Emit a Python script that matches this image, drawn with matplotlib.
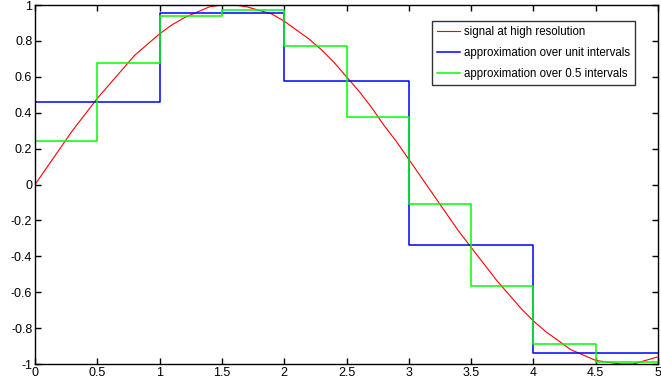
import numpy as np
import matplotlib
matplotlib.use("Agg")
import matplotlib.pyplot as plt

# signal, every 0.1
x_sig = np.arange(0, 5.01, 0.1)
y_sig = [0.00, 0.10, 0.20, 0.30, 0.39, 0.48, 0.56, 0.64, 0.72, 0.78,
         0.84, 0.89, 0.93, 0.96, 0.99, 1.00, 1.00, 0.99, 0.97, 0.95,
         0.91, 0.86, 0.81, 0.75, 0.68, 0.60, 0.52, 0.43, 0.33, 0.24,
         0.14, 0.04, -0.06, -0.16, -0.26, -0.35, -0.44, -0.53, -0.61, -0.69,
         -0.76, -0.82, -0.87, -0.92, -0.95, -0.98, -0.99, -1.00, -1.00, -0.98,
         -0.96]

# approximation over unit intervals
unit_edges = [0, 1, 2, 3, 4, 5]
unit_vals = [0.46, 0.956, 0.574, -0.336, -0.937]

# approximation over 0.5 intervals
half_edges = [0, 0.5, 1, 1.5, 2, 2.5, 3, 3.5, 4, 4.5, 5]
half_vals = [0.245, 0.675, 0.939, 0.974, 0.770, 0.378, -0.107, -0.566, -0.886, -0.989]

xticks = [0, 0.5, 1, 1.5, 2, 2.5, 3, 3.5, 4, 4.5, 5]
yticks = [-1, -0.8, -0.6, -0.4, -0.2, 0, 0.2, 0.4, 0.6, 0.8, 1]

plt.rcParams['font.family'] = ['Liberation Sans', 'DejaVu Sans']

fig = plt.figure(figsize=(6.61, 3.85), dpi=100)
ax = fig.add_axes([0.053, 0.0545, 0.9425, 0.9325])

ax.plot(x_sig, y_sig, color='red', lw=0.8, label='signal at high resolution')
ax.step(unit_edges, unit_vals + [unit_vals[-1]], where='post', color='blue', lw=1.1,
        label='approximation over unit intervals')
ax.step(half_edges, half_vals + [half_vals[-1]], where='post', color='#00ff00', lw=1.1,
        label='approximation over 0.5 intervals')

ax.set_xlim(0, 5)
ax.set_ylim(-1, 1)
ax.set_xticks(xticks)
ax.set_xticklabels([('%g' % t) for t in xticks])
ax.set_yticks(yticks)
ax.set_yticklabels([('%g' % t) for t in yticks])
ax.tick_params(direction='in', length=4, width=1, top=True, right=True,
               labelsize=9, pad=2)
for s in ax.spines.values():
    s.set_linewidth(1.0)

leg = ax.legend(loc='upper right', bbox_to_anchor=(0.963, 0.955), borderaxespad=0,
                fontsize=8.3, frameon=True, fancybox=False, edgecolor='black',
                handlelength=2.0, handletextpad=0.35, borderpad=0.45, labelspacing=0.75)
leg.get_frame().set_linewidth(1.0)

fig.savefig('out.png', dpi=100)
